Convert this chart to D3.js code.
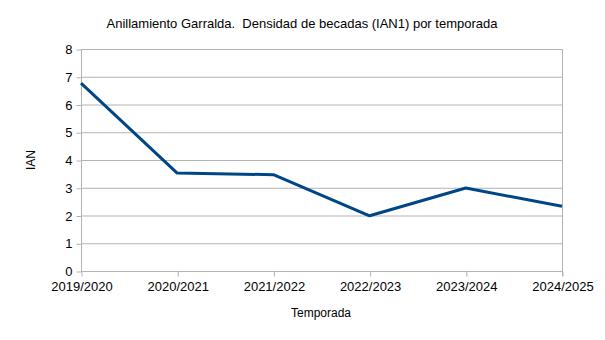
<!DOCTYPE html>
<html>
<head>
<meta charset="utf-8">
<script src="https://cdn.jsdelivr.net/npm/d3@7"></script>
<style>
  body { margin: 0; background: #fff; }
  svg { display: block; font-family: "Liberation Sans", Arial, sans-serif; }
</style>
</head>
<body>
<svg id="chart" width="605" height="340"></svg>
<script>
// datos
const temporadas = ["2019/2020", "2020/2021", "2021/2022", "2022/2023", "2023/2024", "2024/2025"];
const ian = [6.77, 3.53, 3.47, 1.99, 2.99, 2.33];
const yTicks = [0, 1, 2, 3, 4, 5, 6, 7, 8];

const area = { left: 81, right: 562, top: 49, bottom: 271 };

const svg = d3.select("#chart");

const x = d3.scalePoint()
    .domain(temporadas)
    .range([area.left, area.right]);

const y = d3.scaleLinear()
    .domain([0, 8])
    .range([area.bottom, area.top]);

// rejilla horizontal
svg.append("g")
    .selectAll("line")
    .data(yTicks)
    .enter()
    .append("line")
    .attr("x1", area.left)
    .attr("x2", area.right)
    .attr("y1", d => y(d) + 0.5)
    .attr("y2", d => y(d) + 0.5)
    .attr("stroke", "#b3b3b3")
    .attr("stroke-width", 1);

// eje derecho (borde)
svg.append("line")
    .attr("x1", area.right + 0.5).attr("x2", area.right + 0.5)
    .attr("y1", area.top).attr("y2", area.bottom + 5)
    .attr("stroke", "#b3b3b3");

// eje Y
const gY = svg.append("g")
    .attr("transform", `translate(${area.left + 0.5},0.5)`)
    .call(d3.axisLeft(y).tickValues(yTicks).tickSize(5).tickPadding(4));
gY.select(".domain").attr("stroke", "#b3b3b3").attr("d", `M0,${area.top}V${area.bottom}`);
gY.selectAll(".tick line").attr("stroke", "#b3b3b3");
gY.selectAll("text").attr("fill", "#000").style("font-size", "13px")
    .style("font-family", "Liberation Sans, Arial, sans-serif");

// eje X
const gX = svg.append("g")
    .attr("transform", `translate(0.5,${area.bottom + 0.5})`)
    .call(d3.axisBottom(x).tickSize(5).tickPadding(5));
gX.select(".domain").attr("stroke", "#b3b3b3").attr("d", `M${area.left},0H${area.right}`);
gX.selectAll(".tick line").attr("stroke", "#b3b3b3");
gX.selectAll("text").attr("fill", "#000").style("font-size", "13px")
    .style("font-family", "Liberation Sans, Arial, sans-serif");

// línea
const line = d3.line()
    .x((d, i) => x(temporadas[i]))
    .y(d => y(d));

svg.append("path")
    .datum(ian)
    .attr("fill", "none")
    .attr("stroke", "#004586")
    .attr("stroke-width", 3)
    .attr("stroke-linejoin", "round")
    .attr("d", line);

// títulos
svg.append("text")
    .attr("x", 302).attr("y", 28)
    .attr("text-anchor", "middle")
    .style("font-size", "13px")
    .attr("xml:space", "preserve")
    .text("Anillamiento Garralda.  Densidad de becadas (IAN1) por temporada");

svg.append("text")
    .attr("x", 321).attr("y", 317)
    .attr("text-anchor", "middle")
    .style("font-size", "12px")
    .text("Temporada");

svg.append("text")
    .attr("transform", "translate(35,160) rotate(-90)")
    .attr("text-anchor", "middle")
    .style("font-size", "12px")
    .text("IAN");
</script>
</body>
</html>
